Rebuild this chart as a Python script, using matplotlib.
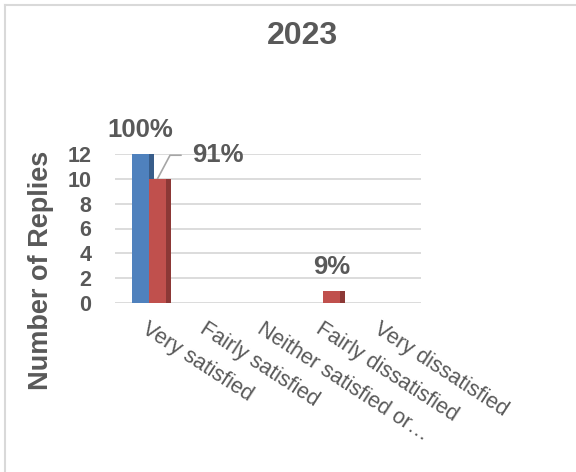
import numpy as np
import matplotlib.pyplot as plt
import matplotlib.transforms as mtransforms
from matplotlib.lines import Line2D

# categories and reply counts
categories = ['Very satisfied', 'Fairly satisfied', 'Neither satisfied or…',
              'Fairly dissatisfied', 'Very dissatisfied']
total = [12, 0, 0, 0, 0]
replies = [10, 0, 0, 1, 0]
total_labels = ['100%', '', '', '', '']
reply_labels = ['91%', '', '', '9%', '']

TEXT = '#595959'
GRID = '#D9D9D9'
BLUE, BLUE_SIDE = '#4F81BD', '#385D8A'
RED, RED_SIDE = '#C0504D', '#8C3836'

plt.rcParams['font.family'] = ['Liberation Sans', 'DejaVu Sans']

fig = plt.figure(figsize=(5.76, 4.72), dpi=100)
ax = fig.add_axes([115/576, 169/472, 306/576, 149/472])

x = np.arange(len(categories))
w = 0.293   # front face width
d = 0.086   # depth of the shaded side

# blue series: side face first, then front
ax.bar(x, total, width=d, align='edge', color=BLUE_SIDE, zorder=2)
ax.bar(x - w, total, width=w, align='edge', color=BLUE, zorder=3)
# red series
ax.bar(x + w, replies, width=d, align='edge', color=RED_SIDE, zorder=3)
ax.bar(x, replies, width=w, align='edge', color=RED, zorder=4)

ax.set_xlim(-0.586, 4.69)
ax.set_ylim(0, 12)
ax.set_yticks(np.arange(0, 13, 2))
ax.yaxis.grid(True, color=GRID, lw=1.3, zorder=0)
ax.set_axisbelow(True)
for s in ax.spines.values():
    s.set_visible(False)
ax.tick_params(axis='both', length=0)
ax.tick_params(axis='y', pad=17, labelsize=15.5, labelcolor=TEXT)
for lab in ax.get_yticklabels():
    lab.set_fontweight('bold')

ax.set_xticks(x)
ax.set_xticklabels(categories, rotation=-33, ha='left', va='top',
                   rotation_mode='anchor', fontsize=15.5, color=TEXT)
ax.tick_params(axis='x', pad=11)
shift = mtransforms.ScaledTranslation(0, 0, fig.dpi_scale_trans)
for lab in ax.get_xticklabels():
    lab.set_transform(lab.get_transform() + shift)

# data labels
for xi, v, t in zip(x, total, total_labels):
    if t:
        ax.annotate(t, (xi - w/2, v), xytext=(0, 12), textcoords='offset points',
                    ha='center', va='baseline', fontsize=18.5,
                    fontweight='bold', color=TEXT, annotation_clip=False)
for xi, v, t in zip(x, replies, reply_labels):
    if not t:
        continue
    if v > 5:
        # label pulled out with a leader line
        ax.annotate(t, (xi + w/2, v), xytext=(25, 17), textcoords='offset points',
                    ha='left', va='center', fontsize=18.5, fontweight='bold',
                    color=TEXT, annotation_clip=False,
                    arrowprops=dict(arrowstyle='-', color='#A6A6A6', lw=1.2,
                                    shrinkA=6, shrinkB=0, relpos=(0, 0.5),
                                    connectionstyle='angle,angleA=0,angleB=62,rad=0'))
    else:
        ax.annotate(t, (xi + w/2, v), xytext=(0, 12), textcoords='offset points',
                    ha='center', va='baseline', fontsize=18.5,
                    fontweight='bold', color=TEXT, annotation_clip=False)

fig.text(41/576, 1 - 270/472, 'Number of Replies', rotation=90, ha='center',
         va='center', fontsize=19.5, fontweight='bold', color=TEXT)
fig.text(302.5/576, 1 - 36.5/472, '2023', ha='center', va='center',
         fontsize=23, fontweight='bold', color=TEXT)

# chart area border
fig.add_artist(Line2D([4.5/576, 1], [1 - 5/472] * 2, color=GRID, lw=1.5))
fig.add_artist(Line2D([4.5/576] * 2, [0, 1 - 5/472], color=GRID, lw=1.5))

fig.savefig('out.png', dpi=100)
